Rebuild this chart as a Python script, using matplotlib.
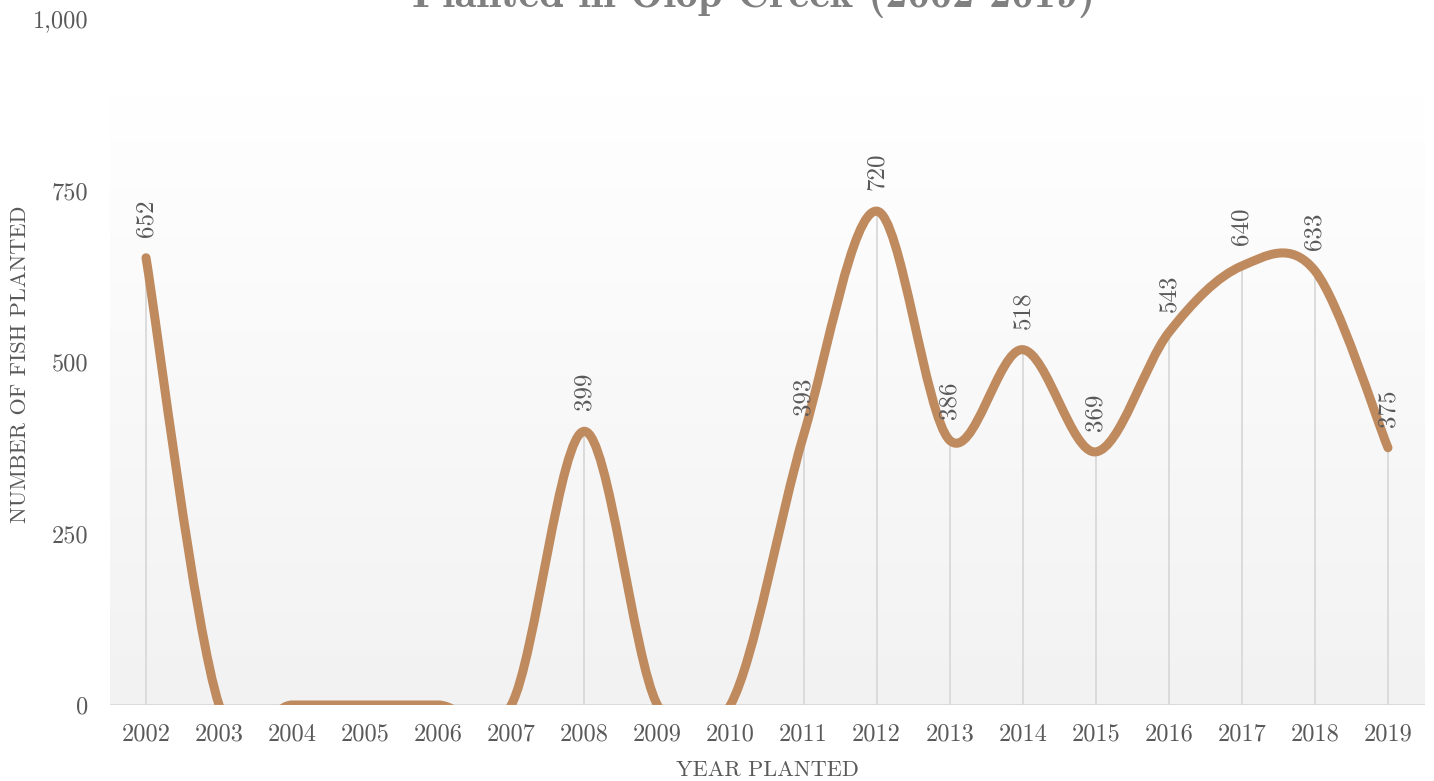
import numpy as np
import matplotlib
matplotlib.use("Agg")
import matplotlib.pyplot as plt
from matplotlib.path import Path
from matplotlib.patches import PathPatch

years = [str(y) for y in range(2002, 2020)]
fish = [652, 0, 0, 0, 0, 0, 399, 0, 0, 393, 720, 386, 518, 369, 543, 640, 633, 375]
y_ticks = [0, 250, 500, 750, 1000]
y_tick_labels = ["0", "250", "500", "750", "1,000"]

LINE = "#bf8a5e"
TXT = "#595959"
GRID = "#d9d9d9"
FONT = "cmr10"

fig = plt.figure(figsize=(14.34, 7.81), dpi=100)
ax = fig.add_axes([109.5 / 1434, 1 - 705 / 781, 1315 / 1434, 686 / 781])

x = np.arange(len(fish))
ax.set_xlim(-0.5, len(fish) - 0.5)

# gradient plot-area background
grad = np.linspace(1.0, 0.0, 256).reshape(-1, 1)
ax.imshow(grad, extent=(-0.5, len(fish) - 0.5, 0, 890), aspect="auto",
          cmap=matplotlib.colors.LinearSegmentedColormap.from_list("g", ["#f2f2f2", "#ffffff"]),
          vmin=0, vmax=1, zorder=0, origin="upper")
ax.set_ylim(0, 1000)

# drop lines for non-zero values
nz = [i for i, v in enumerate(fish) if v > 0]
ax.vlines([x[i] for i in nz], 0, [fish[i] for i in nz], color=GRID, lw=1.3, zorder=1)
ax.axhline(0, color=GRID, lw=2, zorder=1)

# smoothed line (Catmull-Rom style bezier, like Excel's smoothed line)
pts = np.column_stack([x, fish]).astype(float)
n = len(pts)
verts = [pts[0]]
codes = [Path.MOVETO]
for i in range(n - 1):
    p_prev = pts[max(i - 1, 0)]
    p0, p1 = pts[i], pts[i + 1]
    p_next = pts[min(i + 2, n - 1)]
    c1 = p0 + (p1 - p_prev) / 6
    c2 = p1 - (p_next - p0) / 6
    verts += [c1, c2, p1]
    codes += [Path.CURVE4] * 3
patch = PathPatch(Path(verts, codes), fill=False, edgecolor=LINE, lw=6.5,
                  capstyle="round", joinstyle="round", zorder=3)
ax.add_patch(patch)

for i in nz:
    ax.annotate(str(fish[i]), (x[i], fish[i]), xytext=(0, 15), textcoords="offset points",
                rotation=90, ha="center", va="bottom", fontsize=18, color=TXT,
                family=FONT, zorder=4)

for s in ax.spines.values():
    s.set_visible(False)
ax.set_xticks(x)
ax.set_xticklabels(years, family=FONT, fontsize=17.5, color=TXT)
ax.set_yticks(y_ticks)
ax.set_yticklabels(y_tick_labels, family=FONT, fontsize=17.5, color=TXT)
ax.tick_params(axis="x", length=0, pad=13)
ax.tick_params(axis="y", length=0, pad=15)

fig.text(767 / 1434, 1 - 770 / 781, "YEAR PLANTED", ha="center", va="center",
         family=FONT, fontsize=16, color=TXT)
fig.text(20 / 1434, 1 - 364 / 781, "NUMBER OF FISH PLANTED", ha="center", va="center",
         rotation=90, family=FONT, fontsize=16, color=TXT)
fig.text(754 / 1434, 1 - 7 / 781, "Planted in Olop Creek (2002-2019)", ha="center",
         va="baseline", family="cmb10", fontsize=32, color="#808080")

fig.savefig("out.png", dpi=100)
